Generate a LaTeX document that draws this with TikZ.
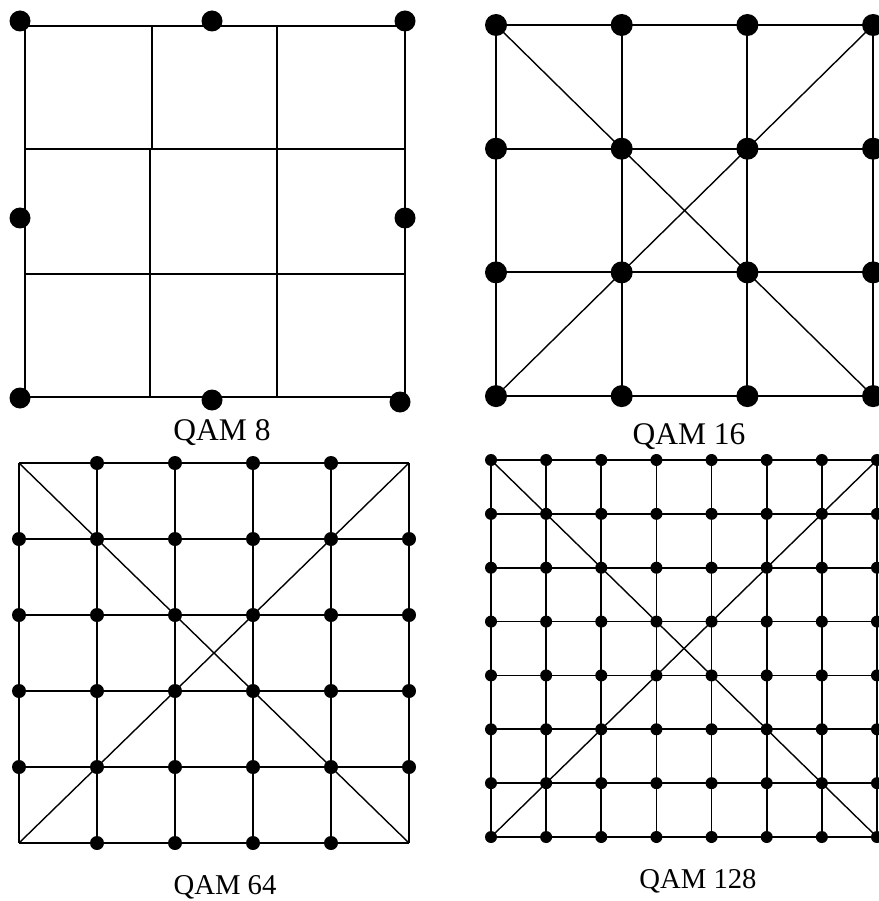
\documentclass[tikz,border=0pt]{standalone}
\usepackage{fontspec}
\setmainfont{Liberation Serif}
\usetikzlibrary{positioning}

\begin{document}
\begin{tikzpicture}[
    x=1pt, y=-1pt,
    ponto/.style={circle, fill=black, inner sep=0pt, minimum size=#1},
    linha/.style={line width=#1},
    linha/.default=2pt,
    diag/.style={line width=1.4pt},
    rotulo/.style={font=\fontsize{#1}{#1}\selectfont, anchor=base, inner sep=0pt}
  ]
    \useasboundingbox (0,0) rectangle (878,901);

    % QAM 8
    \coordinate (a8) at (25,26); \coordinate (b8) at (405,397);
    \draw[linha] (a8) rectangle (b8);
    \draw[linha] (152,26) -- (152,149) (150,149) -- (150,397) (277,26) -- (277,397);
    \draw[linha] (25,149) -- (405,149) (25,274) -- (405,274);
    \foreach \n/\x/\y in {1/20/21, 2/212/21, 3/405/21, 4/20/218, 5/405/218, 6/20/398, 7/212/400, 8/400/402}
      \node[ponto=21pt] (p8-\n) at (\x,\y) {};
    \node[rotulo=31.5] (t8) at (222,440) {QAM 8};

    % QAM 16
    \foreach \i in {0,...,3} \foreach \j in {0,...,3}
      \node[ponto=22pt] (p16-\i-\j) at ({496+125.7*\i},{25+123.7*\j}) {};
    \foreach \k in {0,...,3}
      \draw[linha] (p16-\k-0.center) -- (p16-\k-3.center) (p16-0-\k.center) -- (p16-3-\k.center);
    \draw[diag] (p16-0-0.center) -- (p16-3-3.center) (p16-0-3.center) -- (p16-3-0.center);
    \node[rotulo=31.5] (t16) at (689,444) {QAM 16};

    % QAM 64
    \foreach \i in {0,...,5} \foreach \j in {0,...,5}
      \coordinate (q64-\i-\j) at ({19+78*\i},{463+76*\j});
    \foreach \k in {0,...,5}
      \draw[linha=1.8pt] (q64-\k-0) -- (q64-\k-5) (q64-0-\k) -- (q64-5-\k);
    \draw[diag] (q64-0-0) -- (q64-5-5) (q64-0-5) -- (q64-5-0);
    \foreach \i in {1,...,4} {
      \node[ponto=14pt] (p64-\i-0) at (q64-\i-0) {};
      \node[ponto=14pt] (p64-\i-5) at (q64-\i-5) {};
    }
    \foreach \i in {0,...,5} \foreach \j in {1,...,4}
      \node[ponto=14pt] (p64-\i-\j) at (q64-\i-\j) {};
    \node[rotulo=28.7] (t64) at (225,894) {QAM 64};

    % QAM 128
    \foreach \i in {0,...,7} \foreach \j in {0,...,7}
      \node[ponto=12pt] (p128-\i-\j) at ({491+55.14*\i},{460+53.86*\j}) {};
    \foreach \k in {0,...,7}
      \draw[linha=1.8pt] (p128-\k-0.center) -- (p128-\k-7.center) (p128-0-\k.center) -- (p128-7-\k.center);
    \draw[diag] (p128-0-0.center) -- (p128-7-7.center) (p128-0-7.center) -- (p128-7-0.center);
    \node[rotulo=28.7] (t128) at (698,888) {QAM 128};
  \end{tikzpicture}
\end{document}
